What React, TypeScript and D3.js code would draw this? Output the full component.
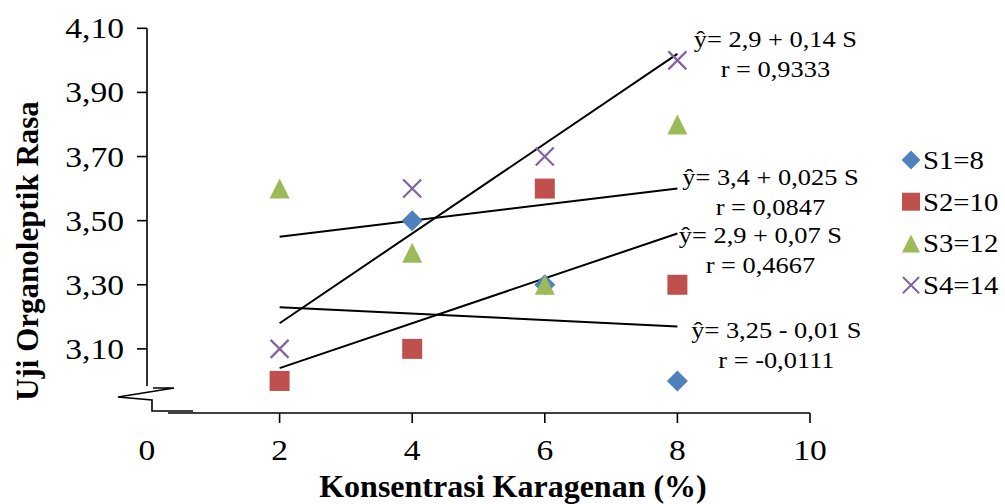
import React, { useEffect, useRef } from "react";
import * as d3 from "d3";

// chart values
const concentrations = [2, 4, 6, 8];
const seriesNames = ["S1=8", "S2=10", "S3=12", "S4=14"];
const s1Values = [null, 3.5, 3.3, 3.0];
const s2Values = [3.0, 3.1, 3.6, 3.3];
const s3Values = [3.6, 3.4, 3.3, 3.8];
const s4Values = [3.1, 3.6, 3.7, 4.0];
const seriesColors = ["#4F81BD", "#C0504D", "#9BBB59", "#8064A2"];
const seriesShapes = ["diamond", "square", "triangle", "cross"];
const xTicks = [0, 2, 4, 6, 8, 10];
const yTicks = [3.1, 3.3, 3.5, 3.7, 3.9, 4.1];
const trendIntercepts = [2.9, 3.4, 2.9, 3.25];
const trendSlopes = [0.14, 0.025, 0.07, -0.01];
const trendEquations = ["ŷ= 2,9 + 0,14 S", "ŷ= 3,4 + 0,025 S", "ŷ= 2,9 + 0,07 S", "ŷ= 3,25 - 0,01 S"];
const trendR = ["r = 0,9333", "r = 0,0847", "r = 0,4667", "r = -0,0111"];

// label placement relative to the end of each trend line (px)
const labelOffsets = [[98, -7], [93, -3.5], [83, 10], [99, 12]];

const FONT = "'Liberation Serif', 'Times New Roman', serif";
const fmt = (v: number) => v.toFixed(2).replace(".", ",");

const App = () => {
  const svgRef = useRef<SVGSVGElement>(null);

  useEffect(() => {
    const width = 1005;
    const height = 504;
    const svg = d3.select(svgRef.current).attr("width", width).attr("height", height);
    svg.selectAll("*").remove();

    const x = d3.scaleLinear().domain([0, 10]).range([147, 810]);
    const y = d3.scaleLinear().domain([2.9, 4.1]).range([413, 28.3]);

    const g = svg.append("g").attr("font-family", FONT).attr("fill", "#000");

    // y axis (with break)
    const x0 = x(0);
    const yb = y(2.9);
    g.append("line").attr("x1", x0).attr("x2", x0).attr("y1", y(4.1)).attr("y2", yb - 27)
      .attr("stroke", "#000").attr("stroke-width", 1.6);
    g.append("path")
      .attr("d", `M${x0 + 6},${yb - 25} L${x0 + 27},${yb - 25} L${x0 - 29},${yb - 16} L${x0 + 5},${yb - 13} L${x0 + 5},${yb - 2} L${x0 + 46},${yb - 2}`)
      .attr("fill", "none").attr("stroke", "#000").attr("stroke-width", 1.6);
    g.append("g").selectAll("line").data(yTicks).enter().append("line")
      .attr("x1", x0 - 10).attr("x2", x0).attr("y1", (d) => y(d)).attr("y2", (d) => y(d))
      .attr("stroke", "#000").attr("stroke-width", 1.6);
    g.append("g").selectAll("text").data(yTicks).enter().append("text")
      .attr("transform", (d) => `translate(124,${y(d) + 10}) scale(1.12,1)`)
      .attr("text-anchor", "end").attr("font-size", 30)
      .text((d) => fmt(d));

    // x axis
    g.append("line").attr("x1", x0 + 21).attr("x2", x(10)).attr("y1", yb).attr("y2", yb)
      .attr("stroke", "#000").attr("stroke-width", 1.6);
    g.append("g").selectAll("line").data(xTicks.filter((d) => d > 0)).enter().append("line")
      .attr("x1", (d) => x(d)).attr("x2", (d) => x(d)).attr("y1", yb).attr("y2", yb + 10)
      .attr("stroke", "#000").attr("stroke-width", 1.6);
    g.append("g").selectAll("text").data(xTicks).enter().append("text")
      .attr("transform", (d) => `translate(${x(d)},460) scale(1.12,1)`)
      .attr("text-anchor", "middle").attr("font-size", 30)
      .text((d) => d);

    // axis titles
    g.append("text").attr("x", 513).attr("y", 497).attr("text-anchor", "middle")
      .attr("font-size", 32).attr("font-weight", "bold").text("Konsentrasi Karagenan (%)");
    g.append("text").attr("transform", "translate(38,251) rotate(-90)").attr("text-anchor", "middle")
      .attr("font-size", 31).attr("font-weight", "bold").text("Uji Organoleptik Rasa");

    // trend lines
    trendIntercepts.forEach((a, i) => {
      const b = trendSlopes[i];
      g.append("path")
        .attr("d", d3.line<number>().x((d) => x(d)).y((d) => y(a + b * d))([2, 8]))
        .attr("fill", "none").attr("stroke", "#000").attr("stroke-width", 2);
    });

    // markers
    const marker = (shape: string, color: string, sel: any) => {
      if (shape === "diamond") {
        sel.append("path").attr("d", "M0,-10.5L10.5,0L0,10.5L-10.5,0Z").attr("fill", color);
      } else if (shape === "square") {
        sel.append("rect").attr("x", -10).attr("y", -10).attr("width", 20).attr("height", 20).attr("fill", color);
      } else if (shape === "triangle") {
        sel.append("path").attr("d", "M0,-10L10,10L-10,10Z").attr("fill", color);
      } else {
        sel.append("path").attr("d", "M-9,-9L9,9M9,-9L-9,9").attr("stroke", color).attr("stroke-width", 2.2).attr("fill", "none");
      }
    };

    const allSeries = [s1Values, s2Values, s3Values, s4Values];
    allSeries.forEach((vals, si) => {
      concentrations.forEach((c, i) => {
        const v = vals[i];
        if (v == null) return;
        const mg = g.append("g").attr("transform", `translate(${x(c)},${y(v)})`);
        marker(seriesShapes[si], seriesColors[si], mg);
      });
    });

    // equation labels
    trendIntercepts.forEach((a, i) => {
      const ex = x(8) + labelOffsets[i][0];
      const ey = y(a + trendSlopes[i] * 8) + labelOffsets[i][1];
      g.append("text").attr("transform", `translate(${ex},${ey}) scale(1.1,1)`)
        .attr("text-anchor", "middle").attr("font-size", 24).text(trendEquations[i]);
      g.append("text").attr("transform", `translate(${ex},${ey + 30}) scale(1.1,1)`)
        .attr("text-anchor", "middle").attr("font-size", 24).text(trendR[i]);
    });

    // legend
    seriesNames.forEach((name, i) => {
      const ly = 160 + i * 41.7;
      const mg = g.append("g").attr("transform", `translate(911,${ly}) scale(0.9)`);
      marker(seriesShapes[i], seriesColors[i], mg);
      g.append("text").attr("transform", `translate(923,${ly + 9}) scale(1.15,1)`)
        .attr("font-size", 25).text(name);
    });
  }, []);

  return (
    <svg ref={svgRef} style={{ position: "absolute", left: 0, top: 0, background: "#fff" }}></svg>
  );
};

export default App;
